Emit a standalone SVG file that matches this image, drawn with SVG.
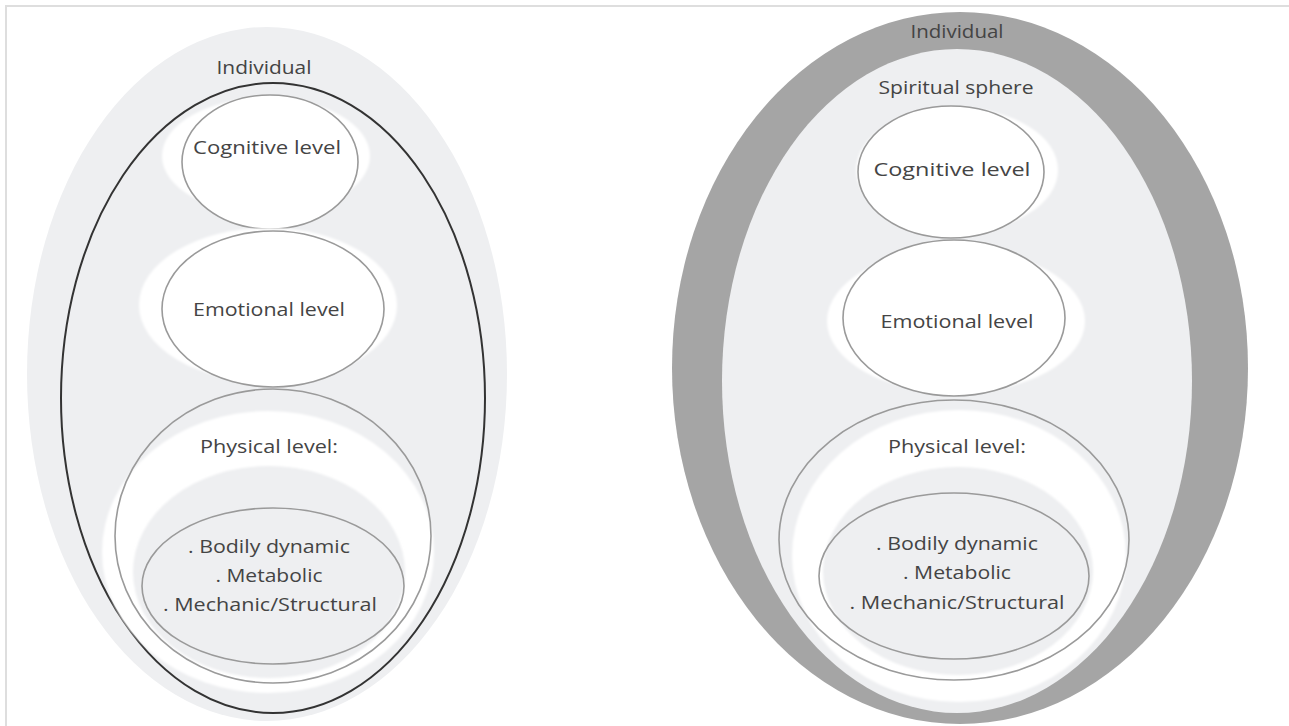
<svg xmlns="http://www.w3.org/2000/svg" width="1289" height="726" viewBox="0 0 1289 726">
  <defs>
    <filter id="soft" x="-10%" y="-10%" width="120%" height="120%">
      <feGaussianBlur stdDeviation="1.2"/>
    </filter>
  </defs>
  <style>
    .frame { stroke: #dedede; stroke-width: 2; fill: none; }
    .zone { fill: #eeeff1; }
    .band { fill: #a5a5a5; }
    .halo { fill: #ffffff; filter: url(#soft); }
    .core { fill: #eeeff1; filter: url(#soft); }
    .level { fill: #ffffff; stroke: #9a9a9a; stroke-width: 1.6; }
    .ring { fill: none; stroke: #9a9a9a; stroke-width: 1.6; }
    .bound { fill: none; stroke: #333333; stroke-width: 2; }
    text { font-family: "Open Sans", "Liberation Sans", sans-serif; font-size: 19px; fill: #444444; text-anchor: middle; }
  </style>

  <rect width="1289" height="726" fill="#ffffff"/>
  <!-- page frame: top and left rules only -->
  <path class="frame" d="M6 726 V6 H1289"/>

  <!-- ===== Left model ===== -->
  <g id="left-individual">
    <ellipse class="zone" cx="267" cy="374" rx="240" ry="347"/>
    <text x="264" y="74" textLength="95" lengthAdjust="spacingAndGlyphs">Individual</text>
  </g>
  <g id="left-boundary">
    <ellipse class="bound" cx="273" cy="398" rx="212" ry="315"/>
  </g>
  <g id="left-cognitive">
    <ellipse class="halo" cx="266" cy="156" rx="104" ry="58"/>
    <ellipse class="level" cx="270" cy="162" rx="88" ry="67"/>
    <text x="267" y="154" textLength="148" lengthAdjust="spacingAndGlyphs">Cognitive level</text>
  </g>
  <g id="left-emotional">
    <ellipse class="halo" cx="268" cy="305" rx="129" ry="77"/>
    <ellipse class="level" cx="273" cy="309" rx="111" ry="78"/>
    <text x="269" y="316" textLength="152" lengthAdjust="spacingAndGlyphs">Emotional level</text>
  </g>
  <g id="left-physical">
    <ellipse class="zone" cx="273" cy="536" rx="158" ry="147"/>
    <ellipse class="halo" cx="268" cy="552" rx="166" ry="141"/>
    <ellipse class="ring" cx="273" cy="536" rx="158" ry="147"/>
    <text x="269" y="453" textLength="138" lengthAdjust="spacingAndGlyphs">Physical level:</text>
  </g>
  <g id="left-physical-components">
    <ellipse class="core" cx="269" cy="572" rx="136" ry="106"/>
    <ellipse class="ring" cx="273" cy="586" rx="131" ry="78"/>
    <text x="269" y="553" textLength="162" lengthAdjust="spacingAndGlyphs">. Bodily dynamic</text>
    <text x="269" y="582" textLength="107" lengthAdjust="spacingAndGlyphs">. Metabolic</text>
    <text x="270" y="611" textLength="214" lengthAdjust="spacingAndGlyphs">. Mechanic/Structural</text>
  </g>

  <!-- ===== Right model ===== -->
  <g id="right-individual">
    <ellipse class="band" cx="960" cy="368" rx="288" ry="356"/>
    <text x="957" y="38" textLength="93" lengthAdjust="spacingAndGlyphs">Individual</text>
  </g>
  <g id="right-spiritual">
    <ellipse class="zone" cx="957" cy="381" rx="235" ry="332"/>
    <text x="956" y="94" textLength="155" lengthAdjust="spacingAndGlyphs">Spiritual sphere</text>
  </g>
  <g id="right-cognitive">
    <ellipse class="halo" cx="957" cy="170" rx="101" ry="62"/>
    <ellipse class="level" cx="951" cy="172" rx="93" ry="66"/>
    <text x="952" y="176" textLength="157" lengthAdjust="spacingAndGlyphs">Cognitive level</text>
  </g>
  <g id="right-emotional">
    <ellipse class="halo" cx="956" cy="321" rx="129" ry="72"/>
    <ellipse class="level" cx="954" cy="318" rx="111" ry="78"/>
    <text x="957" y="328" textLength="153" lengthAdjust="spacingAndGlyphs">Emotional level</text>
  </g>
  <g id="right-physical">
    <ellipse class="zone" cx="954" cy="540" rx="175" ry="140"/>
    <ellipse class="halo" cx="959" cy="556" rx="167" ry="146"/>
    <ellipse class="ring" cx="954" cy="540" rx="175" ry="140"/>
    <text x="957" y="453" textLength="138" lengthAdjust="spacingAndGlyphs">Physical level:</text>
  </g>
  <g id="right-physical-components">
    <ellipse class="core" cx="958" cy="571" rx="135" ry="104"/>
    <ellipse class="ring" cx="954" cy="576" rx="135" ry="83"/>
    <text x="957" y="550" textLength="162" lengthAdjust="spacingAndGlyphs">. Bodily dynamic</text>
    <text x="957" y="579" textLength="108" lengthAdjust="spacingAndGlyphs">. Metabolic</text>
    <text x="957" y="609" textLength="215" lengthAdjust="spacingAndGlyphs">. Mechanic/Structural</text>
  </g>
</svg>
